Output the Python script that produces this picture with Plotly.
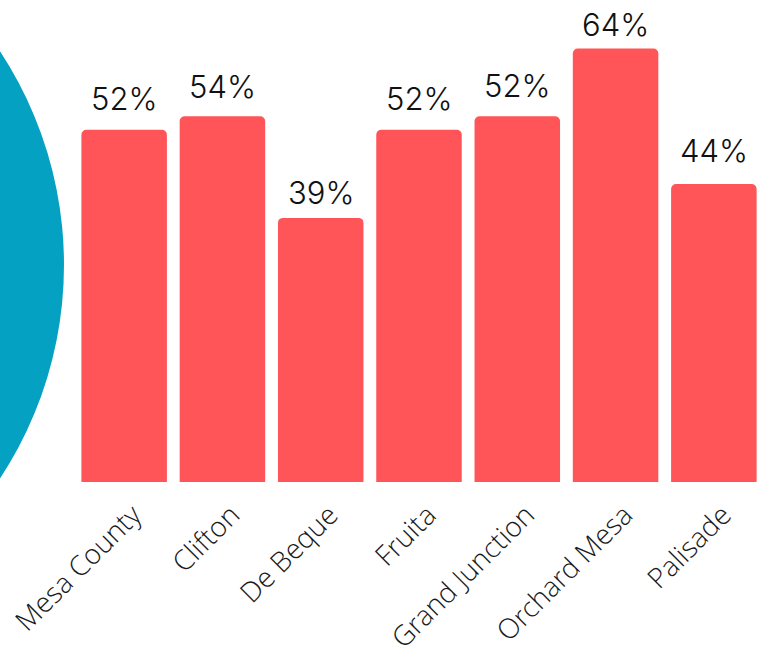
import plotly.graph_objects as go

categories = ["Mesa County", "Clifton", "De Beque", "Fruita", "Grand Junction", "Orchard Mesa", "Palisade"]
values = [52, 54, 39, 52, 54, 64, 44]
value_labels = ["52%", "54%", "39%", "52%", "52%", "64%", "44%"]

BAR_COLOR = "#FF5558"
CIRCLE_COLOR = "#04A1C3"
# per-label pixel offset above each bar top (styling only)
label_yshift = [11, 9, 5, 11, 10, 4, 13]

fig = go.Figure()
fig.add_trace(go.Bar(
    x=categories,
    y=values,
    marker=dict(color=BAR_COLOR, cornerradius=5, line=dict(width=0)),
    hoverinfo="skip",
))

for cat, val, lab, ys in zip(categories, values, value_labels, label_yshift):
    fig.add_annotation(
        x=cat, y=val, text=lab, showarrow=False,
        yanchor="bottom", yshift=ys,
        font=dict(family="Inter", size=31, color="#111111", weight=300),
    )

fig.add_shape(
    type="circle", xref="paper", yref="paper",
    x0=-1.142, x1=-0.016, y0=-0.362, y1=1.282,
    fillcolor=CIRCLE_COLOR, line=dict(width=0), layer="below",
)

fig.update_layout(
    width=763, height=656,
    margin=dict(l=75, r=0, t=10, b=174, autoexpand=False),
    paper_bgcolor="white", plot_bgcolor="rgba(0,0,0,0)",
    bargap=0.13,
    showlegend=False,
    xaxis=dict(
        tickangle=-45, automargin=False,
        ticklabelshift=9, ticklabelstandoff=10,
        tickfont=dict(family="Open Sans Light, Open Sans", size=28, color="#1a1a1a", weight=300),
        showgrid=False, zeroline=False, showline=False, ticks="",
    ),
    yaxis=dict(
        range=[0, 69.7], visible=False, showgrid=False, zeroline=False, automargin=False,
    ),
)

fig.write_html(
    "out.html",
    config={"displayModeBar": False},
    post_script="document.body.style.margin='0';document.body.style.overflow='hidden';",
)
